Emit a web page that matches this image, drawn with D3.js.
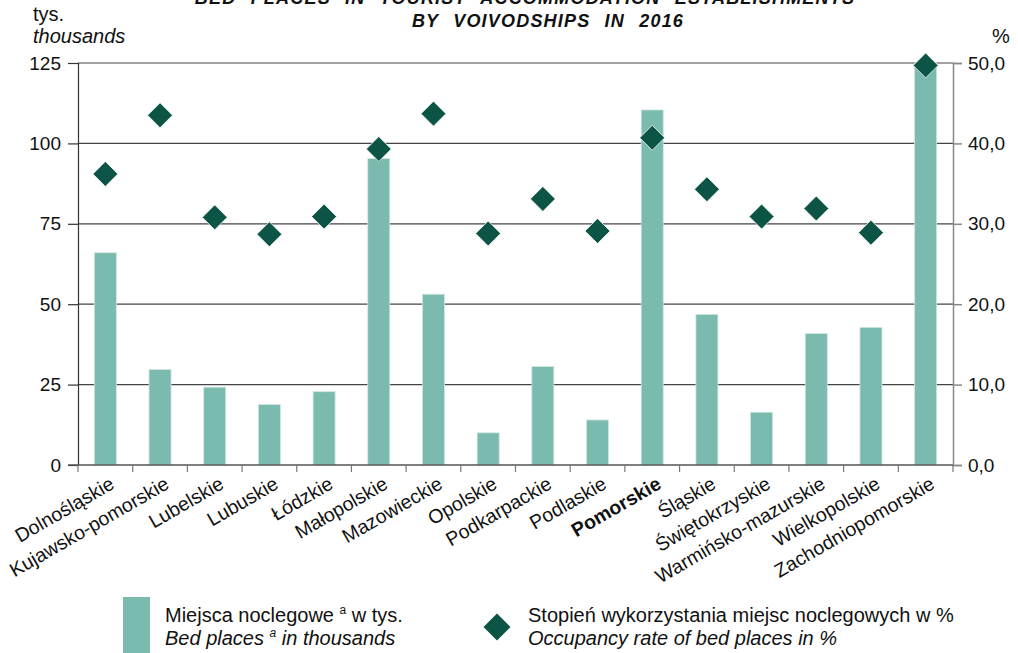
<!DOCTYPE html>
<html><head><meta charset="utf-8">
<script src="https://cdn.jsdelivr.net/npm/d3@7"></script>
<style>body{margin:0;background:#fff}svg{display:block;font-family:"Liberation Sans",Arial,sans-serif}</style>
</head><body><svg id="c" width="1018" height="653"></svg>
<script>
const categories = ["Dolnośląskie","Kujawsko-pomorskie","Lubelskie","Lubuskie","Łódzkie","Małopolskie","Mazowieckie","Opolskie","Podkarpackie","Podlaskie","Pomorskie","Śląskie","Świętokrzyskie","Warmińsko-mazurskie","Wielkopolskie","Zachodniopomorskie"];
const bedPlaces = [66.0,29.7,24.2,18.8,22.8,95.3,53.1,10.0,30.6,14.0,110.4,46.8,16.4,40.9,42.8,125.0];
const occupancy = [36.2,43.5,30.8,28.7,30.9,39.3,43.7,28.8,33.1,29.1,40.7,34.3,30.9,31.9,28.9,49.7];
const leftTicks = [0,25,50,75,100,125];
const rightTicks = [0,10,20,30,40,50];
const boldCategory = "Pomorskie";

const svg = d3.select("#c");
const L = 78, R = 953, T = 63, B = 465;
const FS = 19, FT = 20;
const barColor = "#7bbaae", diaColor = "#0b5446";

const xb = d3.scaleBand().domain(categories).range([L, R]);
const yL = d3.scaleLinear().domain([0,125]).range([B, T]);
const yR = d3.scaleLinear().domain([0,50]).range([B, T]);

// gridlines
svg.append("g").selectAll("line").data(leftTicks.filter(d=>d>0)).join("line")
  .attr("x1", L).attr("x2", R).attr("y1", d=>yL(d)).attr("y2", d=>yL(d))
  .attr("stroke", "#444").attr("stroke-width", 1.2);

// bars
svg.append("g").selectAll("rect").data(categories).join("rect")
  .attr("x", (d)=>xb(d) + xb.bandwidth()/2 - 11)
  .attr("width", 22)
  .attr("y", (d,i)=>yL(bedPlaces[i]))
  .attr("height", (d,i)=>B - yL(bedPlaces[i]))
  .attr("fill", barColor).attr("stroke", "#cfe6e1").attr("stroke-width", 0.8);

// left axis
const gl = svg.append("g").attr("transform", `translate(${L},0)`)
  .call(d3.axisLeft(yL).tickValues(leftTicks).tickSize(10).tickPadding(7).tickFormat(d3.format("d")));
gl.select(".domain").attr("stroke", "#333").attr("stroke-width", 1.2);
gl.selectAll(".tick line").attr("stroke", "#333").attr("stroke-width", 1.2);
gl.selectAll("text").attr("font-size", FS).attr("fill", "#111").attr("font-family", "Liberation Sans, Arial, sans-serif");

// right axis
const gr = svg.append("g").attr("transform", `translate(${R},0)`)
  .call(d3.axisRight(yR).tickValues(rightTicks).tickSize(9).tickPadding(6).tickFormat(d => d3.format(".1f")(d).replace(".", ",")));
gr.select(".domain").attr("stroke", "#888").attr("stroke-width", 1.5);
gr.selectAll(".tick line").attr("stroke", "#888").attr("stroke-width", 1.5);
gr.selectAll("text").attr("font-size", FS).attr("fill", "#111").attr("font-family", "Liberation Sans, Arial, sans-serif");

// bottom axis
svg.append("line").attr("x1", L - 10).attr("x2", R).attr("y1", B).attr("y2", B).attr("stroke", "#555").attr("stroke-width", 1.5);
const bTicks = categories.map(c => xb(c)).concat([R]);
svg.append("g").selectAll("line").data(bTicks).join("line")
  .attr("x1", d=>d).attr("x2", d=>d).attr("y1", B).attr("y2", B + 7)
  .attr("stroke", "#777").attr("stroke-width", 1.2);

// x labels
svg.append("g").selectAll("text").data(categories).join("text")
  .attr("transform", d => `translate(${xb(d) + xb.bandwidth()/2 + 3},${B + 10}) rotate(-30)`)
  .attr("text-anchor", "end").attr("dy", "0.75em")
  .attr("font-size", 19.5).attr("fill", "#111")
  .attr("font-weight", d => d === boldCategory ? "bold" : "normal")
  .text(d => d);

// diamonds
const diamond = (cx, cy, r) => `M${cx},${cy-r}L${cx+r},${cy}L${cx},${cy+r}L${cx-r},${cy}Z`;
svg.append("g").selectAll("path").data(categories).join("path")
  .attr("d", (d,i) => diamond(xb(d) + xb.bandwidth()/2, yR(occupancy[i]), 12.5))
  .attr("fill", diaColor).attr("stroke", "#fff").attr("stroke-width", 0.8);

// titles
svg.append("text").attr("x", 525).attr("y", 4).attr("text-anchor", "middle")
  .attr("font-size", 18).attr("font-weight", "bold").attr("font-style", "italic")
  .attr("letter-spacing", 1.2).attr("word-spacing", 8).attr("fill", "#111")
  .text("BED PLACES IN TOURIST ACCOMMODATION ESTABLISHMENTS");
svg.append("text").attr("x", 548).attr("y", 27).attr("text-anchor", "middle")
  .attr("font-size", 18).attr("font-weight", "bold").attr("font-style", "italic")
  .attr("letter-spacing", 1.2).attr("word-spacing", 8).attr("fill", "#111")
  .text("BY VOIVODSHIPS IN 2016");

svg.append("text").attr("x", 33).attr("y", 21).attr("font-size", FT).attr("fill", "#111").text("tys.");
svg.append("text").attr("x", 33).attr("y", 43).attr("font-size", FT).attr("font-style", "italic").attr("fill", "#111").text("thousands");
svg.append("text").attr("x", 1001).attr("y", 43).attr("font-size", FT).attr("text-anchor", "middle").attr("fill", "#111").text("%");

// legend
svg.append("rect").attr("x", 123).attr("y", 597).attr("width", 27).attr("height", 60).attr("fill", barColor);
const l1 = svg.append("text").attr("x", 165).attr("y", 622).attr("font-size", FT).attr("fill", "#111");
l1.append("tspan").text("Miejsca noclegowe ");
l1.append("tspan").attr("font-size", 12).attr("dy", -8).text("a");
l1.append("tspan").attr("dy", 8).text(" w tys.");
const l2 = svg.append("text").attr("x", 165).attr("y", 645).attr("font-size", FT).attr("font-style", "italic").attr("fill", "#111");
l2.append("tspan").text("Bed places ");
l2.append("tspan").attr("font-size", 12).attr("dy", -8).text("a");
l2.append("tspan").attr("dy", 8).text(" in thousands");
svg.append("path").attr("d", diamond(497, 627, 13.5)).attr("fill", diaColor);
svg.append("text").attr("x", 528).attr("y", 622).attr("font-size", FT).attr("fill", "#111").text("Stopień wykorzystania miejsc noclegowych w %");
svg.append("text").attr("x", 528).attr("y", 645).attr("font-size", FT).attr("font-style", "italic").attr("fill", "#111").text("Occupancy rate of bed places in %");
</script></body></html>
